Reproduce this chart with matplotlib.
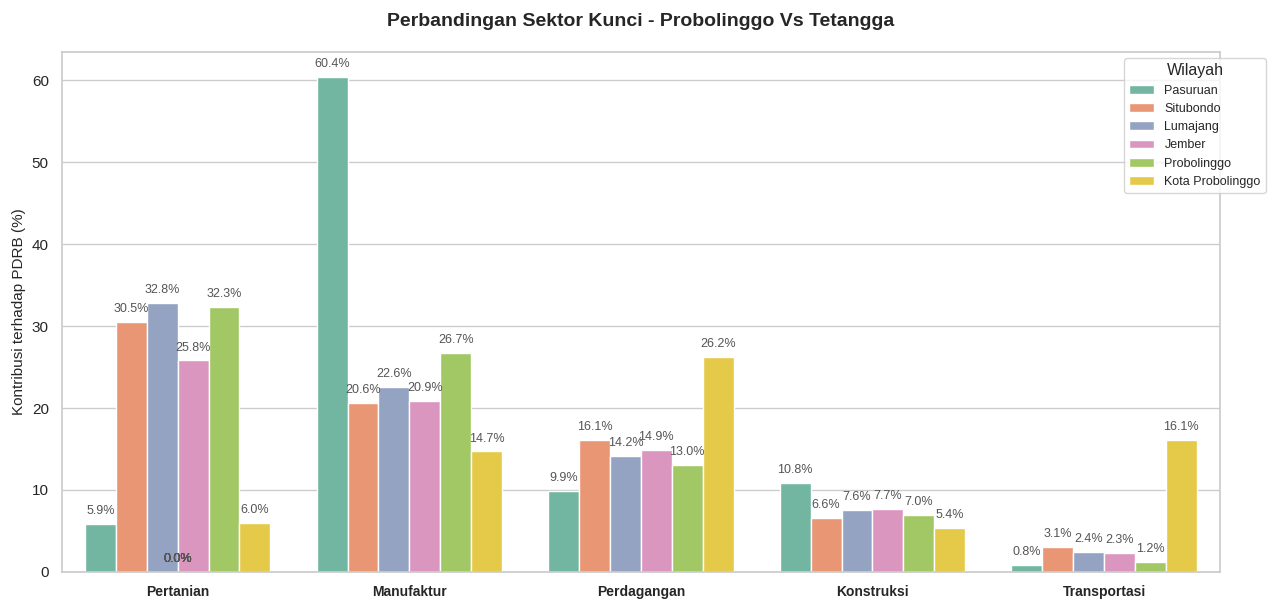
import numpy as np
import pandas as pd
import matplotlib
matplotlib.use("Agg")
import matplotlib.pyplot as plt
import seaborn as sns

sektor = ["Pertanian", "Manufaktur", "Perdagangan", "Konstruksi", "Transportasi"]
wilayah = ["Pasuruan", "Situbondo", "Lumajang", "Jember", "Probolinggo", "Kota Probolinggo"]

# kontribusi (%) per wilayah, urut sesuai sektor
pasuruan = [5.9, 60.4, 9.9, 10.8, 0.8]
situbondo = [30.5, 20.6, 16.1, 6.6, 3.1]
lumajang = [32.8, 22.6, 14.2, 7.6, 2.4]
jember = [25.8, 20.9, 14.9, 7.7, 2.3]
probolinggo = [32.3, 26.7, 13.0, 7.0, 1.2]
kota_probolinggo = [6.0, 14.7, 26.2, 5.4, 16.1]

# label kosong yang ikut tergambar di sumbu (patch legenda, tinggi 0)
kosong = [0.0] * 6

series = [pasuruan, situbondo, lumajang, jember, probolinggo, kota_probolinggo]
rows = []
for w, vals in zip(wilayah, series):
    for s, v in zip(sektor, vals):
        rows.append({"Sektor": s, "Wilayah": w, "Kontribusi": v})
df = pd.DataFrame(rows)

sns.set_theme(style="whitegrid")
plt.rcParams["font.family"] = ["Liberation Sans", "DejaVu Sans"]

fig, ax = plt.subplots(figsize=(12.8, 6.12), dpi=100)

sns.barplot(data=df, x="Sektor", y="Kontribusi", hue="Wilayah",
            order=sektor, hue_order=wilayah, palette="Set2", ax=ax)

for cont in ax.containers:
    for p in cont:
        h = p.get_height()
        ax.annotate(f"{h:.1f}%", (p.get_x() + p.get_width() / 2, h),
                    xytext=(0, 5), textcoords="offset points",
                    ha="center", va="bottom", fontsize=9, color="#555555")

for v in kosong:
    ax.annotate(f"{v:.1f}%", (0, v), xytext=(0, 5), textcoords="offset points",
                ha="center", va="bottom", fontsize=9, color="#555555")

ax.set_title("Perbandingan Sektor Kunci - Probolinggo Vs Tetangga",
             fontsize=14, fontweight="bold", pad=19)
ax.set_xlabel("")
ax.set_ylabel("Kontribusi terhadap PDRB (%)", fontsize=11)
ax.tick_params(axis="y", labelsize=11)
for lbl in ax.get_xticklabels():
    lbl.set_fontweight("bold")
    lbl.set_fontsize(10)
ax.legend(title="Wilayah", bbox_to_anchor=(1.045, 1), loc="upper right",
          fontsize=9, title_fontsize=11.5, handlelength=2.0)

fig.subplots_adjust(left=0.0484, right=0.953, top=0.915, bottom=0.0654)
plt.savefig("out.png")
plt.close()
